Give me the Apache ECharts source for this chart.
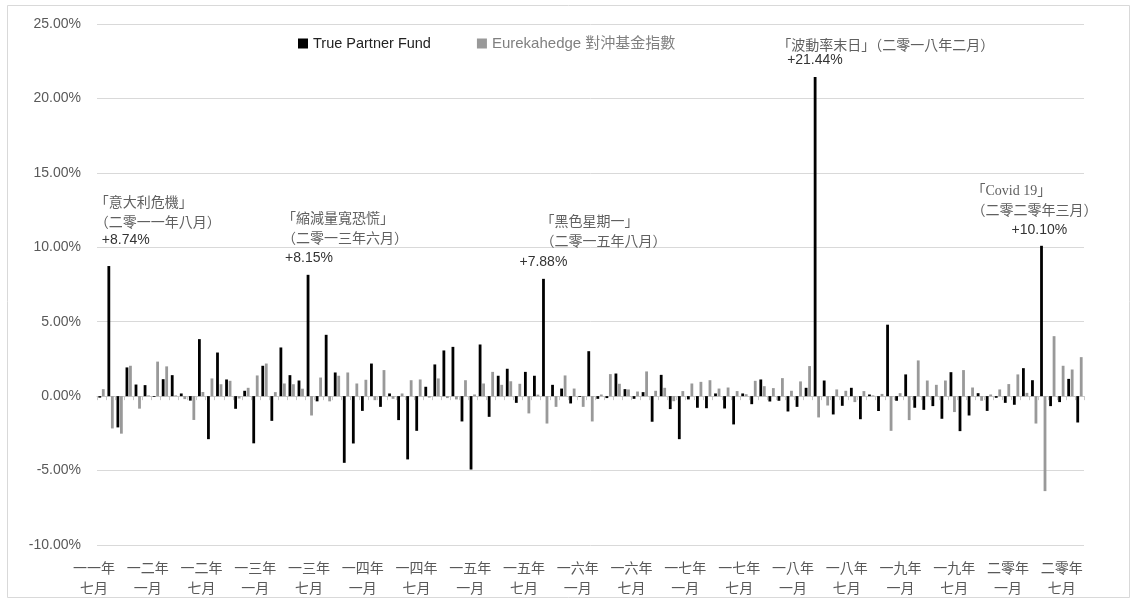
<!DOCTYPE html>
<html><head><meta charset="utf-8">
<script src="https://cdn.jsdelivr.net/npm/echarts/dist/echarts.min.js"></script>
<style>html,body{margin:0;padding:0;background:#fff}#c{width:1136px;height:602px}</style>
</head><body><div id="c"></div>
<script>
// ---- data ----
const months = [
  '2011-07','2011-08','2011-09','2011-10','2011-11','2011-12',
  '2012-01','2012-02','2012-03','2012-04','2012-05','2012-06','2012-07','2012-08','2012-09','2012-10','2012-11','2012-12',
  '2013-01','2013-02','2013-03','2013-04','2013-05','2013-06','2013-07','2013-08','2013-09','2013-10','2013-11','2013-12',
  '2014-01','2014-02','2014-03','2014-04','2014-05','2014-06','2014-07','2014-08','2014-09','2014-10','2014-11','2014-12',
  '2015-01','2015-02','2015-03','2015-04','2015-05','2015-06','2015-07','2015-08','2015-09','2015-10','2015-11','2015-12',
  '2016-01','2016-02','2016-03','2016-04','2016-05','2016-06','2016-07','2016-08','2016-09','2016-10','2016-11','2016-12',
  '2017-01','2017-02','2017-03','2017-04','2017-05','2017-06','2017-07','2017-08','2017-09','2017-10','2017-11','2017-12',
  '2018-01','2018-02','2018-03','2018-04','2018-05','2018-06','2018-07','2018-08','2018-09','2018-10','2018-11','2018-12',
  '2019-01','2019-02','2019-03','2019-04','2019-05','2019-06','2019-07','2019-08','2019-09','2019-10','2019-11','2019-12',
  '2020-01','2020-02','2020-03','2020-04','2020-05','2020-06','2020-07'
];
const truePartner = [
  -0.10, 8.74, -2.10, 1.93, 0.78, 0.74,
  -0.05, 1.14, 1.41, 0.18, -0.30, 3.83, -2.89, 2.93, 1.12, -0.85, 0.36, -3.17,
  2.04, -1.66, 3.27, 1.41, 1.05, 8.15, -0.35, 4.12, 1.59, -4.48, -3.18, -0.99,
  2.19, -0.72, 0.18, -1.61, -4.25, -2.33, 0.63, 2.13, 3.07, 3.31, -1.70, -4.93,
  3.47, -1.39, 1.37, 1.84, -0.45, 1.63, 1.37, 7.88, 0.76, 0.51, -0.49, -0.05,
  3.02, -0.18, -0.13, 1.52, 0.47, -0.18, 0.27, -1.72, 1.43, -0.87, -2.89, -0.22,
  -0.78, -0.81, 0.18, -0.83, -1.90, 0.18, -0.54, 1.12, -0.36, -0.31, -1.03, -0.72,
  0.56, 21.44, 1.05, -1.23, -0.65, 0.56, -1.55, 0.11, -1.00, 4.80, -0.31, 1.46,
  -0.78, -0.92, -0.67, -1.52, 1.61, -2.35, -1.30, 0.20, -0.99, -0.11, -0.45, -0.58,
  1.88, 1.07, 10.10, -0.67, -0.40, 1.16, -1.77
];
const eurekahedge = [
  0.47, -2.17, -2.52, 2.04, -0.84, 0.05,
  2.32, 2.00, 0.05, -0.20, -1.60, 0.28, 1.19, 0.80, 1.03, -0.16, 0.56, 1.39,
  2.19, 0.27, 0.85, 0.80, 0.50, -1.30, 1.25, -0.35, 1.37, 1.59, 0.85, 1.10,
  -0.27, 1.75, -0.18, 0.18, 1.07, 1.12, -0.10, 1.19, -0.13, -0.22, 1.07, 0.11,
  0.85, 1.63, 0.76, 1.00, 0.83, -1.16, 0.10, -1.84, -0.72, 1.39, 0.51, -0.72,
  -1.70, 0.11, 1.48, 0.83, 0.45, 0.31, 1.66, 0.36, 0.56, -0.34, 0.34, 0.85,
  0.96, 1.07, 0.51, 0.58, 0.34, 0.13, 1.03, 0.67, 0.54, 1.21, 0.36, 0.99,
  2.02, -1.43, -0.63, 0.45, 0.36, -0.40, 0.34, 0.05, 0.15, -2.33, 0.20, -1.61,
  2.40, 1.05, 0.76, 1.05, -1.07, 1.75, 0.58, -0.31, 0.11, 0.45, 0.81, 1.46,
  0.22, -1.84, -6.38, 4.03, 2.04, 1.79, 2.62
];
const xTickLabels = ['一一年\n七月','一二年\n一月','一二年\n七月','一三年\n一月','一三年\n七月','一四年\n一月','一四年\n七月','一五年\n一月','一五年\n七月','一六年\n一月','一六年\n七月','一七年\n一月','一七年\n七月','一八年\n一月','一八年\n七月','一九年\n一月','一九年\n七月','二零年\n一月','二零年\n七月'];
const seriesNames = ['True Partner Fund', 'Eurekahedge 對沖基金指數'];
const eventMonths = ['2011-08', '2013-06', '2015-08', '2018-02', '2020-03'];
const eventTitles = [
  ['「意大利危機」', '（二零一一年八月）'],
  ['「縮減量寬恐慌」', '（二零一三年六月）'],
  ['「黑色星期一」', '（二零一五年八月）'],
  ['「波動率末日」（二零一八年二月）'],
  ['「Covid 19」', '（二零二零年三月）']
];
// ---- layout of annotation labels (style only) ----
const eventLayout = [
  {offset: [-14, -13], tLH: 20, vLH: 16, tPad: 0, vPad: 7},
  {offset: [-26, -2], tLH: 20, vLH: 20, tPad: 0, vPad: 3},
  {offset: [-24, -1], tLH: 20, vLH: 22, tPad: 21, vPad: 0},
  {offset: [-38, -4], tLH: 16, vLH: 15, tPad: 0, vPad: 10},
  {offset: [-70, -2], tLH: 20, vLH: 17, tPad: 0, vPad: 40}
];

const CJK = "'Liberation Sans','Noto Sans CJK TC',sans-serif";
const blackData = truePartner.map((v, i) => {
  const k = eventMonths.indexOf(months[i]);
  if (k < 0) return v;
  const L = eventLayout[k];
  const lines = eventTitles[k].map(s => '{t|' + s + '}');
  lines.push('{v|+' + v.toFixed(2) + '%}');
  return {
    value: v,
    label: {
      show: true, position: 'top', distance: 5, align: 'left', verticalAlign: 'bottom',
      offset: L.offset,
      formatter: lines.join('\n'),
      rich: {
        t: {fontSize: 14, lineHeight: L.tLH, color: '#606060', padding: [0, 0, 0, L.tPad],
            fontFamily: k === 4 ? "'Liberation Serif','Noto Sans CJK TC',serif" : "'Noto Sans CJK TC',sans-serif"},
        v: {fontSize: 14, lineHeight: L.vLH, color: '#333333', padding: [0, 0, 0, L.vPad],
            fontFamily: "'Liberation Sans',sans-serif"}
      }
    }
  };
});

const chart = echarts.init(document.getElementById('c'), null, {renderer: 'canvas'});
chart.setOption({
  animation: false,
  backgroundColor: '#ffffff',
  textStyle: {fontFamily: CJK},
  graphic: [{
    type: 'rect', silent: true, z: -10,
    shape: {x: 7.5, y: 5.5, width: 1122, height: 592},
    style: {fill: 'none', stroke: '#d9d9d9', lineWidth: 1}
  }],
  legend: {
    left: 298, top: 36, padding: 0, itemGap: 46, itemWidth: 10, itemHeight: 10,
    icon: 'rect',
    data: [
      {name: seriesNames[0], textStyle: {color: '#222222', fontSize: 14.5, fontFamily: CJK}},
      {name: seriesNames[1], textStyle: {color: '#808080', fontSize: 15, fontFamily: CJK}}
    ]
  },
  grid: [
    {left: 97, right: 52, top: 24, bottom: 57},
    {left: 94, width: 967.7, top: 500, height: 45}
  ],
  xAxis: [
    {
      type: 'category', gridIndex: 0, data: months,
      axisLine: {show: true, onZero: true, lineStyle: {color: '#c8c8c8', width: 1}},
      axisTick: {show: true, interval: 0, length: 4, lineStyle: {color: '#c8c8c8'}},
      axisLabel: {show: false},
      splitLine: {show: false}
    },
    {
      type: 'value', gridIndex: 1, min: 0, max: xTickLabels.length - 1, interval: 1,
      axisLine: {show: false}, axisTick: {show: false}, splitLine: {show: false},
      axisLabel: {
        show: true, margin: 13, fontSize: 14, lineHeight: 20, color: '#595959',
        fontFamily: "'Noto Sans CJK TC',sans-serif",
        formatter: v => xTickLabels[v] || ''
      }
    }
  ],
  yAxis: [
    {
      type: 'value', gridIndex: 0, min: -10, max: 25, interval: 5,
      axisLine: {show: false}, axisTick: {show: false},
      splitLine: {show: true, lineStyle: {color: '#d9d9d9', width: 1}},
      axisLabel: {
        margin: 16, fontSize: 14, color: '#595959', fontFamily: "'Liberation Sans',sans-serif",
        formatter: v => v.toFixed(2) + '%'
      }
    },
    {type: 'value', gridIndex: 1, min: 0, max: 1, show: false}
  ],
  series: [
    {
      name: seriesNames[0], type: 'bar', xAxisIndex: 0, yAxisIndex: 0,
      data: blackData, barWidth: 2.8, barGap: '25%',
      itemStyle: {color: '#000000'}
    },
    {
      name: seriesNames[1], type: 'bar', xAxisIndex: 0, yAxisIndex: 0,
      data: eurekahedge, barWidth: 2.8, barGap: '25%',
      itemStyle: {color: '#999999'}
    }
  ]
});
</script>
</body></html>
